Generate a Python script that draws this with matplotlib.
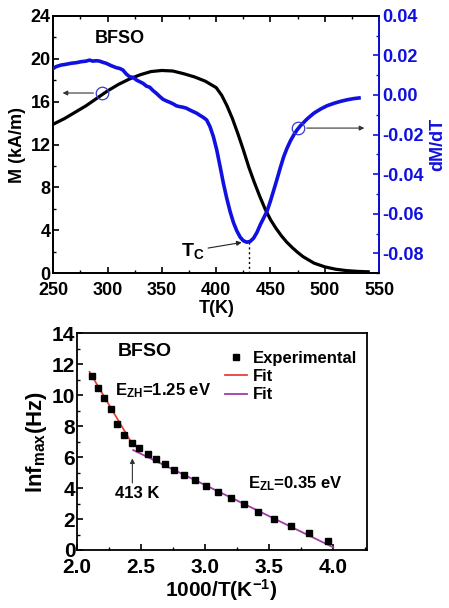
import matplotlib
matplotlib.use("Agg")
import matplotlib.pyplot as plt
from matplotlib.ticker import MultipleLocator, FormatStrFormatter

plt.rcParams['font.family'] = ['Liberation Sans', 'DejaVu Sans']
plt.rcParams['font.weight'] = 'bold'
plt.rcParams['mathtext.fontset'] = 'custom'
plt.rcParams['mathtext.rm'] = 'Liberation Sans:bold'
plt.rcParams['mathtext.bf'] = 'Liberation Sans:bold'
plt.rcParams['mathtext.it'] = 'Liberation Sans:bold'

# ---- magnetisation M(T) ----
T_m = [250, 260, 270, 280, 290, 300, 310, 320, 330, 340, 350, 360, 370, 380,
       390, 395, 400, 405, 410, 415, 420, 425, 430, 435, 440, 445, 450, 455,
       460, 465, 470, 475, 480, 490, 500, 510, 520, 530, 540]
M_vals = [13.9, 14.4, 15.0, 15.6, 16.3, 17.0, 17.6, 18.1, 18.5, 18.8, 18.9,
          18.85, 18.6, 18.3, 17.9, 17.6, 17.3, 16.6, 15.6, 14.4, 13.0, 11.5,
          9.9, 8.5, 7.2, 6.0, 5.0, 4.2, 3.5, 2.9, 2.4, 1.95, 1.55, 0.95, 0.6,
          0.38, 0.25, 0.18, 0.14]

# ---- derivative dM/dT ----
T_d = [250.0, 252.5, 257.1, 261.7, 266.3, 271.0, 275.6, 280.2, 283.3, 286.4,
       289.5, 292.6, 295.6, 298.7, 303.3, 308.0, 311.1, 314.1, 317.2, 320.3,
       323.4, 326.5, 329.6, 332.6, 335.7, 338.8, 341.9, 345.0, 348.1, 351.1,
       354.2, 357.3, 360.4, 363.5, 366.6, 369.6, 372.7, 375.8, 378.9, 382.0,
       385.1, 388.1, 391.2, 394.3, 397.4, 400.5, 403.6, 406.6, 409.7, 412.8,
       415.9, 419.0, 422.1, 425.1, 428.2, 431.3, 434.4, 437.5, 440.6, 443.6,
       446.7, 449.8, 452.9, 456.0, 459.1, 462.2, 465.2, 468.3, 471.4, 474.5,
       477.6, 483.7, 489.9, 496.1, 502.2, 508.4, 514.6, 520.7, 526.9, 531.5]
dMdT = [0.0134, 0.0143, 0.0151, 0.0155, 0.0160, 0.0163, 0.0168, 0.0171,
        0.0176, 0.0171, 0.0173, 0.0171, 0.0165, 0.0160, 0.0148, 0.0138,
        0.0134, 0.0126, 0.0106, 0.0092, 0.0089, 0.0076, 0.0067, 0.0059,
        0.0045, 0.0039, 0.0022, 0.0008, -0.0008, -0.0022, -0.0030, -0.0037,
        -0.0045, -0.0055, -0.0059, -0.0062, -0.0067, -0.0076, -0.0084,
        -0.0092, -0.0103, -0.0113, -0.0126, -0.0160, -0.0210, -0.0277,
        -0.0361, -0.0445, -0.0521, -0.0588, -0.0644, -0.0686, -0.0718,
        -0.0736, -0.0743, -0.0739, -0.0723, -0.0694, -0.0655, -0.0622,
        -0.0588, -0.0538, -0.0482, -0.0425, -0.0366, -0.0311, -0.0269,
        -0.0232, -0.0202, -0.0176, -0.0155, -0.0121, -0.0092, -0.0071,
        -0.0054, -0.0042, -0.0032, -0.0024, -0.0018, -0.0015]
T_c = 430
dMdT_min = -0.0743

# ---- Arrhenius plot ----
inv_T = [2.117, 2.164, 2.210, 2.268, 2.317, 2.369, 2.429, 2.488, 2.553,
         2.616, 2.686, 2.758, 2.839, 2.922, 3.010, 3.104, 3.200, 3.306,
         3.416, 3.538, 3.670, 3.810, 3.961]
ln_fmax = [11.27, 10.47, 9.83, 9.14, 8.16, 7.45, 6.91, 6.59, 6.22, 5.90,
           5.53, 5.18, 4.82, 4.54, 4.15, 3.74, 3.37, 2.94, 2.44, 2.03, 1.58,
           1.10, 0.60]
fit_high = dict(slope=-14.0, intercept=40.91, x=(2.10, 2.435))
fit_low = dict(slope=-4.03, intercept=16.29, x=(2.44, 4.00))

BLUE = '#1010e0'
fig = plt.figure(figsize=(4.49, 6.08), dpi=100)

# ================= top panel =================
ax = fig.add_axes([0.1187, 0.5505, 0.7256, 0.4236])
ax2 = ax.twinx()
ax.plot(T_m, M_vals, color='black', lw=2.3, zorder=3)
ax2.plot(T_d, dMdT, color=BLUE, lw=2.6, zorder=3)

ax.set_xlim(250, 550)
ax.set_ylim(0, 24)
ax2.set_ylim(-0.09, 0.04)
ax.xaxis.set_major_locator(MultipleLocator(50))
ax.xaxis.set_minor_locator(MultipleLocator(25))
ax.yaxis.set_major_locator(MultipleLocator(4))
ax.yaxis.set_minor_locator(MultipleLocator(2))
ax2.yaxis.set_major_locator(MultipleLocator(0.02))
ax2.yaxis.set_minor_locator(MultipleLocator(0.01))
ax2.yaxis.set_major_formatter(FormatStrFormatter('%.2f'))

ax.tick_params(axis='x', which='both', direction='in', top=True, labelsize=13, pad=6)
ax.tick_params(axis='y', which='both', direction='in', labelsize=13, pad=2)
ax.tick_params(which='major', length=4, width=1.2)
ax.tick_params(which='minor', length=2.5, width=1.0)
ax2.tick_params(axis='y', which='both', direction='in', colors=BLUE, labelsize=13, pad=2)
ax2.tick_params(which='major', length=4, width=1.2)
ax2.tick_params(which='minor', length=2.5, width=1.0)
for lab in ax.get_xticklabels() + ax.get_yticklabels() + ax2.get_yticklabels():
    lab.set_fontweight('bold')
for s in ax.spines.values():
    s.set_linewidth(1.3)
for name, s in ax2.spines.items():
    s.set_linewidth(1.3)
ax2.spines['right'].set_color(BLUE)

ax.set_xlabel('T(K)', fontsize=13, fontweight='bold', labelpad=1)
ax.set_ylabel('M (kA/m)', fontsize=13, fontweight='bold', labelpad=3)
ax2.set_ylabel('dM/dT', fontsize=13, fontweight='bold', color=BLUE, labelpad=4)
ax.text(311, 21.9, 'BFSO', fontsize=13, fontweight='bold', ha='center', va='center')

# T_C marker
ax2.plot([T_c, T_c], [dMdT_min, -0.09], ls=(0, (1.5, 2)), color='black', lw=1.0)
ax2.annotate('', xy=(426, -0.0742), xytext=(390, -0.0775),
             arrowprops=dict(arrowstyle='-|>', color='#222222', lw=0.8,
                             mutation_scale=7))
ax2.text(389, -0.0785, 'T$_{\\rm C}$', fontsize=14, fontweight='bold',
         ha='right', va='center')

# axis-indicating circles and arrows
ax.plot([294.9], [16.8], 'o', ms=9, mfc='none', mec='#3a3ad0', mew=0.9, zorder=4)
ax.annotate('', xy=(256, 16.8), xytext=(289.5, 16.8),
            arrowprops=dict(arrowstyle='-|>', color='#333333', lw=0.8,
                            mutation_scale=7))
ax2.plot([475.4], [-0.0167], 'o', ms=9, mfc='none', mec='#3a3ad0', mew=0.9, zorder=4)
ax2.annotate('', xy=(539, -0.0167), xytext=(480.8, -0.0167),
             arrowprops=dict(arrowstyle='-|>', color='#333333', lw=0.8,
                             mutation_scale=7))

# ================= bottom panel =================
bx = fig.add_axes([0.1708, 0.0954, 0.6459, 0.3564])
bx.plot(inv_T, ln_fmax, 's', color='black', ms=5, zorder=3, label='Experimental', ls='none')
for fit, col in ((fit_high, '#e8403a'), (fit_low, '#a23ca8')):
    xs = list(fit['x'])
    ys = [fit['slope'] * x + fit['intercept'] for x in xs]
    bx.plot(xs, ys, color=col, lw=1.3, zorder=2, label='Fit')

bx.set_xlim(2.0, 4.26)
bx.set_ylim(0, 14)
bx.xaxis.set_major_locator(MultipleLocator(0.5))
bx.xaxis.set_minor_locator(MultipleLocator(0.25))
bx.xaxis.set_major_formatter(FormatStrFormatter('%.1f'))
bx.yaxis.set_major_locator(MultipleLocator(2))
bx.yaxis.set_minor_locator(MultipleLocator(1))
bx.tick_params(which='both', direction='in', labelsize=15)
bx.tick_params(axis='x', pad=6)
bx.tick_params(axis='y', pad=1)
bx.tick_params(which='major', length=4, width=1.2)
bx.tick_params(which='minor', length=2.5, width=1.0)
for lab in bx.get_xticklabels() + bx.get_yticklabels():
    lab.set_fontweight('bold')
for s in bx.spines.values():
    s.set_linewidth(1.3)

bx.set_xlabel('1000/T(K$^{{-}1}$)', fontsize=15, fontweight='bold', labelpad=0)
bx.set_ylabel('lnf$_{\\rm max}$(Hz)', fontsize=16, fontweight='bold', labelpad=2)

bx.text(2.53, 12.8, 'BFSO', fontsize=14, fontweight='bold', ha='center', va='center')
bx.text(2.30, 10.3, 'E$_{\\rm ZH}$=1.25 eV', fontsize=12, fontweight='bold',
        ha='left', va='center')
bx.text(3.335, 4.3, 'E$_{\\rm ZL}$=0.35 eV', fontsize=12, fontweight='bold',
        ha='left', va='center')
bx.annotate('', xy=(2.434, 6.1), xytext=(2.434, 4.15),
            arrowprops=dict(arrowstyle='-|>', color='#333333', lw=0.8,
                            mutation_scale=7))
bx.text(2.475, 3.65, '413 K', fontsize=12, fontweight='bold', ha='center', va='center')

leg = bx.legend(loc='upper left', bbox_to_anchor=(0.49, 0.95), frameon=False,
                prop={'weight': 'bold', 'size': 12}, handlelength=1.3,
                handletextpad=0.35, labelspacing=0.2, borderaxespad=0)

fig.savefig('out.png', dpi=100)
